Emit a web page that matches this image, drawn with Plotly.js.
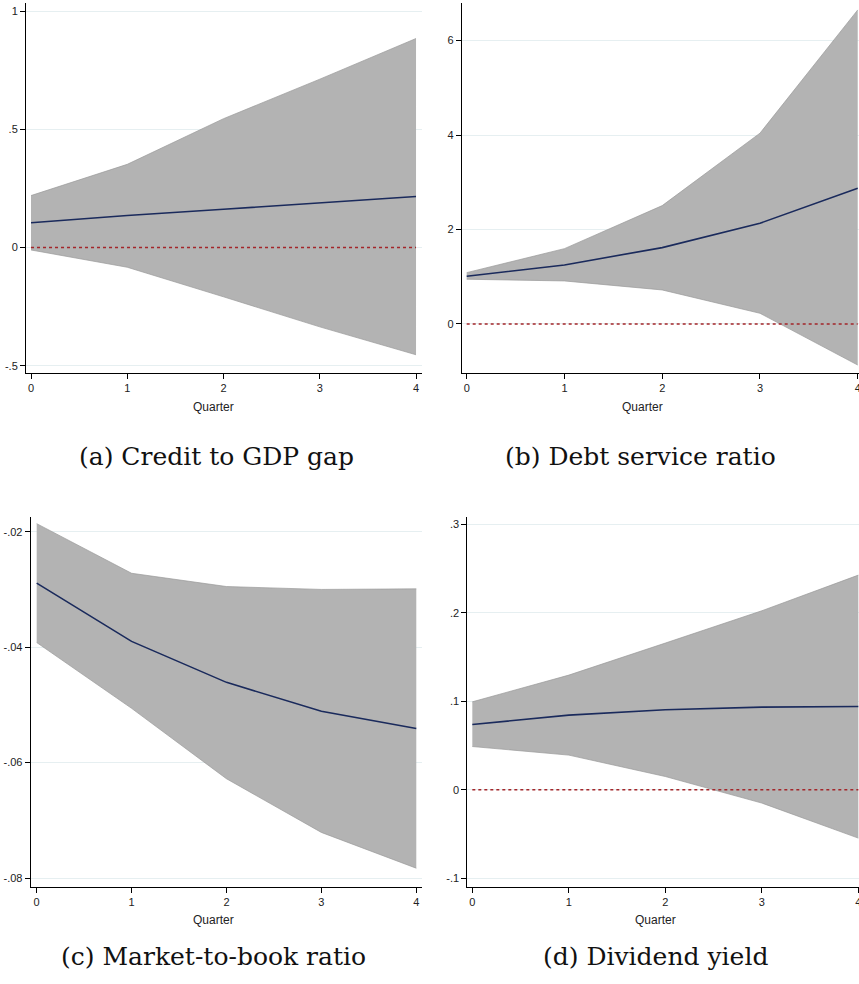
<!DOCTYPE html>
<html>
<head>
<meta charset="utf-8">
<script src="https://cdn.plot.ly/plotly-3.0.1.min.js"></script>
<style>html,body{margin:0;padding:0;background:#fff;}#chart{width:859px;height:984px;}</style>
</head>
<body>
<div id="chart"></div>
<script>
// Quarters
const quarters = [0, 1, 2, 3, 4];

// (a) Credit to GDP gap
const creditMean  = [0.105, 0.136, 0.162, 0.190, 0.216];
const creditUpper = [0.220, 0.352, 0.545, 0.712, 0.884];
const creditLower = [-0.010, -0.083, -0.208, -0.335, -0.453];

// (b) Debt service ratio
const debtMean  = [1.01, 1.25, 1.617, 2.133, 2.875];
const debtUpper = [1.087, 1.595, 2.506, 4.04, 6.65];
const debtLower = [0.947, 0.911, 0.72, 0.226, -0.87];

// (c) Market-to-book ratio
const mtbMean  = [-0.0289, -0.0390, -0.0461, -0.0511, -0.0541];
const mtbUpper = [-0.0186, -0.0272, -0.0295, -0.0300, -0.0299];
const mtbLower = [-0.0392, -0.0506, -0.0628, -0.0721, -0.0783];

// (d) Dividend yield
const divMean  = [0.0738, 0.0844, 0.0904, 0.0934, 0.0941];
const divUpper = [0.0994, 0.1296, 0.1658, 0.2023, 0.2426];
const divLower = [0.0489, 0.0392, 0.0150, -0.0150, -0.0546];

const zeroLine = [0, 0, 0, 0, 0];

// Tick labels
const xTickVals = [0, 1, 2, 3, 4];
const xTickText = ['0', '1', '2', '3', '4'];
const aTickVals = [-0.5, 0, 0.5, 1];
const aTickText = ['-.5', '0', '.5', '1'];
const bTickVals = [0, 2, 4, 6];
const bTickText = ['0', '2', '4', '6'];
const cTickVals = [-0.08, -0.06, -0.04, -0.02];
const cTickText = ['-.08', '-.06', '-.04', '-.02'];
const dTickVals = [-0.1, 0, 0.1, 0.2, 0.3];
const dTickText = ['-.1', '0', '.1', '.2', '.3'];

const captions = ['(a) Credit to GDP gap', '(b) Debt service ratio', '(c) Market-to-book ratio', '(d) Dividend yield'];

const W = 859, H = 984;
const px = v => v / W;
const py = v => 1 - v / H;

const BAND = '#b3b3b3', BANDLINE = '#9a9a9a', NAVY = '#1a2a5c', RED = '#a3262a';
const tickFont = {family: 'Liberation Sans Narrow, Arial Narrow, Liberation Sans, Arial, sans-serif', size: 11, color: '#222'};

const panels = [
  {mean: creditMean, up: creditUpper, lo: creditLower, zero: true,  xs: 'x',  ys: 'y'},
  {mean: debtMean,   up: debtUpper,   lo: debtLower,   zero: true,  xs: 'x2', ys: 'y2'},
  {mean: mtbMean,    up: mtbUpper,    lo: mtbLower,    zero: false, xs: 'x3', ys: 'y3'},
  {mean: divMean,    up: divUpper,    lo: divLower,    zero: true,  xs: 'x4', ys: 'y4'}
];

const traces = [];
panels.forEach(p => {
  traces.push({x: quarters, y: p.up, xaxis: p.xs, yaxis: p.ys, mode: 'lines', line: {color: BANDLINE, width: 0.7}, hoverinfo: 'skip', showlegend: false});
  traces.push({x: quarters, y: p.lo, xaxis: p.xs, yaxis: p.ys, mode: 'lines', fill: 'tonexty', fillcolor: BAND, line: {color: BANDLINE, width: 0.7}, hoverinfo: 'skip', showlegend: false});
  traces.push({x: quarters, y: p.mean, xaxis: p.xs, yaxis: p.ys, mode: 'lines', line: {color: NAVY, width: 1.6}, showlegend: false});
  if (p.zero) traces.push({x: quarters, y: zeroLine, xaxis: p.xs, yaxis: p.ys, mode: 'lines', line: {color: RED, width: 1.5, dash: 'dot'}, showlegend: false});
});

function xax(x0, x1, range, anchor) {
  return {domain: [px(x0), px(x1)], range: range, anchor: anchor, tickvals: xTickVals, ticktext: xTickText,
    ticks: 'outside', ticklen: 5, tickcolor: '#000', tickwidth: 1, showgrid: false, zeroline: false,
    showline: true, linecolor: '#000', linewidth: 1, tickfont: tickFont, fixedrange: true, ticklabeloverflow: 'allow'};
}
function yax(y0, y1, range, anchor, vals, text) {
  return {domain: [py(y1), py(y0)], range: range, anchor: anchor, tickvals: vals, ticktext: text,
    ticks: 'outside', ticklen: 5, tickcolor: '#000', tickwidth: 1, showgrid: true, gridcolor: '#e6eff1', gridwidth: 1,
    zeroline: false, showline: true, linecolor: '#000', linewidth: 1, tickfont: tickFont, fixedrange: true, ticklabeloverflow: 'allow'};
}

const capFont = {family: 'DejaVu Serif, Liberation Serif, serif', size: 25, color: '#111'};
const qFont = {family: 'Liberation Sans Narrow, Arial Narrow, Liberation Sans, Arial, sans-serif', size: 12, color: '#222'};

const ann = [
  {text: 'Quarter', x: px(213), y: py(407), font: qFont},
  {text: 'Quarter', x: px(642), y: py(407), font: qFont},
  {text: 'Quarter', x: px(213), y: py(920), font: qFont},
  {text: 'Quarter', x: px(655), y: py(920), font: qFont},
  {text: captions[0], x: px(216), y: py(457), font: capFont},
  {text: captions[1], x: px(640), y: py(457), font: capFont},
  {text: captions[2], x: px(213), y: py(956), font: capFont},
  {text: captions[3], x: px(655), y: py(956), font: capFont}
].map(a => Object.assign({xref: 'paper', yref: 'paper', xanchor: 'center', yanchor: 'middle', showarrow: false}, a));

const layout = {
  width: W, height: H,
  margin: {l: 0, r: 0, t: 0, b: 0},
  paper_bgcolor: '#fff', plot_bgcolor: '#fff',
  showlegend: false,
  xaxis:  xax(26, 422, [-0.052, 4.062], 'y'),
  yaxis:  yax(3, 373, [-0.53, 1.034], 'x', aTickVals, aTickText),
  xaxis2: xax(461.7, 859, [-0.051, 4.013], 'y2'),
  yaxis2: yax(3.3, 372.7, [-1.032, 6.79], 'x2', bTickVals, bTickText),
  xaxis3: xax(30.7, 421.7, [-0.063, 4.057], 'y3'),
  yaxis3: yax(516.7, 886.7, [-0.0815, -0.0174], 'x3', cTickVals, cTickText),
  xaxis4: xax(467.3, 859, [-0.052, 4.007], 'y4'),
  yaxis4: yax(516.7, 886.7, [-0.1095, 0.3086], 'x4', dTickVals, dTickText),
  annotations: ann
};

Plotly.newPlot('chart', traces, layout, {staticPlot: true, displayModeBar: false});
</script>
</body>
</html>
